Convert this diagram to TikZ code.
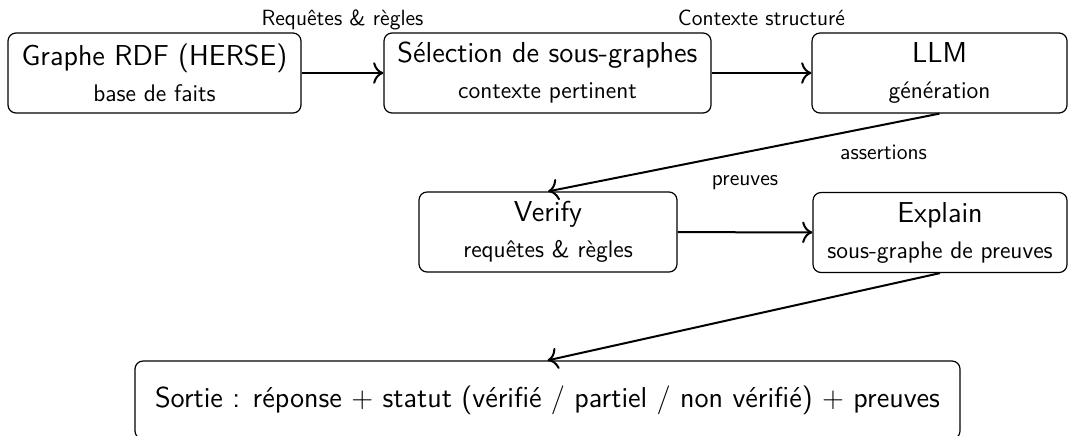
\documentclass[tikz,border=0pt]{standalone}
\usepackage{fontspec}
\usetikzlibrary{arrows.meta}
\begin{document}
\begin{tikzpicture}[x=0.5pt,y=-0.5pt,font=\sffamily,
  box/.style={draw, rounded corners=4pt, line width=0.6pt, align=center,
    inner sep=0pt, minimum height=40pt, font=\sffamily\Large},
  flow/.style={-{To[scale=1.35]}, line width=1pt},
  lbl/.style={font=\sffamily\fontsize{11}{13.6}\selectfont, anchor=base}]
  \useasboundingbox (0,0) rectangle (1068,435);

  % top row
  \node[box, minimum width=146.5pt] (rdf) at (154.5,73)
    {Graphe RDF (HERSE)\\\large base de faits};
  \node[box, minimum width=163.5pt] (sel) at (547.5,73)
    {Sélection de sous-graphes\\\large contexte pertinent};
  \node[box, minimum width=127.5pt] (llm) at (939.5,73)
    {LLM\\\large génération};

  % middle row
  \node[box, minimum width=129pt] (ver) at (548,232)
    {Verify\\\large requêtes \& règles};
  \node[box, minimum width=127pt] (exp) at (940,232.5)
    {Explain\\\large sous-graphe de preuves};

  % output
  \node[box, minimum width=412.5pt, minimum height=39pt] (out) at (547.5,400)
    {Sortie : réponse + statut (vérifié / partiel / non vérifié) + preuves};

  % connectors
  \draw[flow] (rdf) -- node[lbl, midway, yshift=24pt] {Requêtes \& règles} (sel);
  \draw[flow] (sel) -- node[lbl, midway, yshift=24pt] {Contexte structuré} (llm);
  \draw[flow] (llm.south) -- node[lbl, pos=0.143, yshift=-17.5pt] {assertions} (ver.north);
  \draw[flow] (ver) -- node[lbl, midway, yshift=23.5pt] {preuves} (exp);
  \draw[flow] (exp.south) -- (out.north);
\end{tikzpicture}
\end{document}
